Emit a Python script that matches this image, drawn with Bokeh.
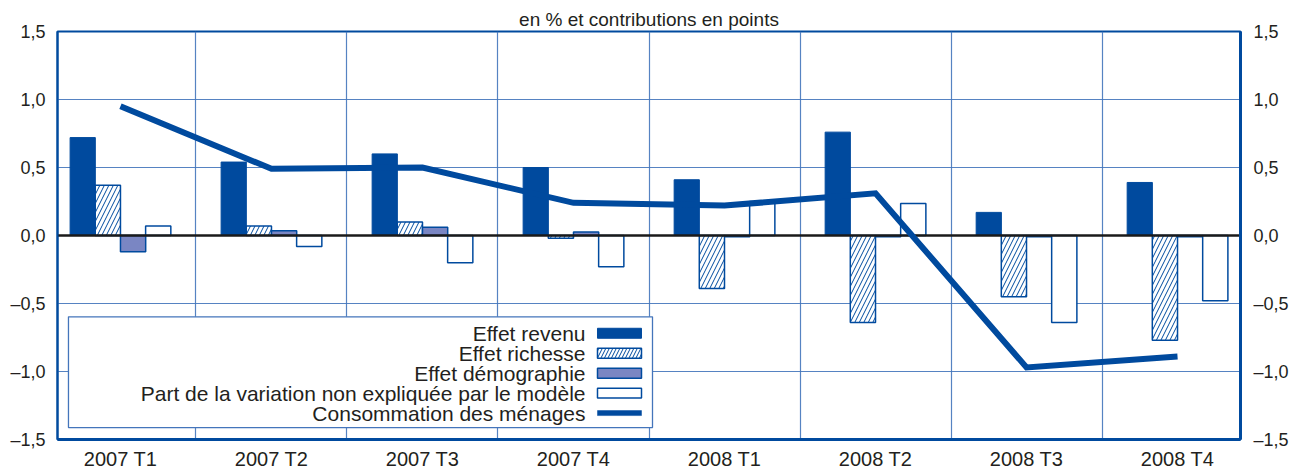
import numpy as np
from bokeh.plotting import figure
from bokeh.models import Range1d, FixedTicker, LinearAxis, BoxAnnotation, Label
from bokeh.embed import file_html
from bokeh.resources import INLINE

# ---- data ----
categories = ["2007 T1", "2007 T2", "2007 T3", "2007 T4",
              "2008 T1", "2008 T2", "2008 T3", "2008 T4"]
effet_revenu = [0.72, 0.54, 0.60, 0.50, 0.41, 0.76, 0.17, 0.39]
effet_richesse = [0.37, 0.07, 0.10, -0.02, -0.39, -0.64, -0.45, -0.77]
effet_demographie = [-0.12, 0.035, 0.06, 0.025, -0.01, -0.01, -0.01, -0.01]
part_non_expliquee = [0.07, -0.08, -0.20, -0.23, 0.25, 0.235, -0.64, -0.48]
consommation = [0.95, 0.49, 0.50, 0.24, 0.22, 0.31, -0.97, -0.89]
y_ticks = [-1.5, -1.0, -0.5, 0.0, 0.5, 1.0, 1.5]
y_tick_labels = ["\u20131,5", "\u20131,0", "\u20130,5", "0,0", "0,5", "1,0", "1,5"]
legend_labels = ["Effet revenu", "Effet richesse", "Effet démographie",
                 "Part de la variation non expliquée par le modèle",
                 "Consommation des ménages"]
title_text = "en % et contributions en points"

# ---- style ----
BLUE = "#004a9e"
DEMO = "#7a86c3"
GRID = "#4475bb"
TXT = "#231f20"
FONT = "Liberation Sans"

idx = np.arange(len(categories))
W = 0.167
offsets = [-0.25, -0.0835, 0.0835, 0.25]

p = figure(width=1300, height=472, output_backend="svg", toolbar_location=None,
           x_range=Range1d(-0.417, 7.417), y_range=Range1d(-1.5, 1.5),
           min_border_left=57, min_border_right=60, min_border_top=31,
           min_border_bottom=32, background_fill_color="white",
           border_fill_color="white")

p.title.text = title_text
p.title.align = "center"
p.title.text_font = FONT
p.title.text_font_size = "19px"
p.title.text_font_style = "normal"
p.title.text_color = TXT
p.title.standoff = 3

p.outline_line_color = BLUE
p.outline_line_width = 2
p.outline_line_alpha = 1

# grids
p.xgrid.ticker = FixedTicker(ticks=list(idx[:-1] + 0.5))
p.ygrid.ticker = FixedTicker(ticks=y_ticks)
for g in (p.xgrid[0], p.ygrid[0]):
    g.grid_line_color = GRID
    g.grid_line_width = 1.2
    g.grid_line_alpha = 0.9

# axes
p.xaxis.ticker = FixedTicker(ticks=list(idx))
p.xaxis.major_label_overrides = {int(i): c for i, c in zip(idx, categories)}
p.yaxis.ticker = FixedTicker(ticks=y_ticks)
p.yaxis.major_label_overrides = {t: l for t, l in zip(y_ticks, y_tick_labels)}
right_axis = LinearAxis(ticker=FixedTicker(ticks=y_ticks),
                        major_label_overrides={t: l for t, l in zip(y_ticks, y_tick_labels)})
p.add_layout(right_axis, "right")

for ax in (p.xaxis[0], p.yaxis[0], right_axis):
    ax.major_tick_in = 0
    ax.major_tick_out = 0
    ax.minor_tick_in = 0
    ax.minor_tick_out = 0
    ax.axis_line_color = BLUE
    ax.major_label_text_font = FONT
    ax.major_label_text_color = TXT
p.xaxis.axis_line_width = 3
p.xaxis.major_label_text_font_size = "20px"
p.xaxis.major_label_standoff = 8
p.yaxis.axis_line_width = 2
p.yaxis.major_label_text_font_size = "18px"
p.yaxis.major_label_standoff = 12
right_axis.axis_line_width = 3
right_axis.major_label_text_font_size = "18px"
right_axis.major_label_standoff = 13

# bars
p.vbar(x=idx + offsets[0], top=effet_revenu, bottom=0, width=W,
       fill_color=BLUE, line_color=BLUE, line_width=1)
p.vbar(x=idx + offsets[1], top=effet_richesse, bottom=0, width=W,
       fill_color="white", line_color=BLUE, line_width=1.5,
       hatch_pattern="/", hatch_color=BLUE, hatch_scale=9, hatch_weight=1)
p.vbar(x=idx + offsets[2], top=effet_demographie, bottom=0, width=W,
       fill_color=DEMO, line_color=BLUE, line_width=1.5)
p.vbar(x=idx + offsets[3], top=part_non_expliquee, bottom=0, width=W,
       fill_color="white", line_color=BLUE, line_width=1.5)

# zero line
p.hspan(y=[0], line_color="#1a1a1a", line_width=2.5)

# consumption line
p.line(idx, consommation, line_color=BLUE, line_width=6, line_join="miter")

# ---- legend (drawn manually: text right-aligned, swatch on the right) ----
def dx(px):
    return (px - 120.0) / 151.0

def dy(py):
    return (235.5 - py) / 136.33

p.add_layout(BoxAnnotation(left=dx(68), right=dx(652), top=dy(317), bottom=dy(428),
                           fill_color="white", fill_alpha=1, line_color=GRID,
                           line_width=1.3, line_alpha=1))
row_y = [333.5, 353.5, 373.5, 393.5, 413.5]
for lab, ry in zip(legend_labels, row_y):
    p.add_layout(Label(x=dx(585), y=dy(ry), text=lab, text_align="right",
                       text_baseline="middle", text_font=FONT,
                       text_font_size="21px", text_color=TXT))
sw_l, sw_r = dx(597), dx(641)
p.add_layout(BoxAnnotation(left=sw_l, right=sw_r, top=dy(row_y[0] - 5), bottom=dy(row_y[0] + 5),
                           fill_color=BLUE, fill_alpha=1, line_color=BLUE, line_alpha=1, line_width=1))
p.add_layout(BoxAnnotation(left=sw_l, right=sw_r, top=dy(row_y[1] - 5), bottom=dy(row_y[1] + 5),
                           fill_color="white", fill_alpha=1, line_color=BLUE, line_alpha=1, line_width=1.5,
                           hatch_pattern="/", hatch_color=BLUE, hatch_scale=7, hatch_weight=1))
p.add_layout(BoxAnnotation(left=sw_l, right=sw_r, top=dy(row_y[2] - 5), bottom=dy(row_y[2] + 5),
                           fill_color=DEMO, fill_alpha=1, line_color=BLUE, line_alpha=1, line_width=1.5))
p.add_layout(BoxAnnotation(left=sw_l, right=sw_r, top=dy(row_y[3] - 5), bottom=dy(row_y[3] + 5),
                           fill_color="white", fill_alpha=1, line_color=BLUE, line_alpha=1, line_width=1.5))
p.add_layout(BoxAnnotation(left=sw_l, right=sw_r, top=dy(row_y[4] - 2.5), bottom=dy(row_y[4] + 2.5),
                           fill_color=BLUE, fill_alpha=1, line_color=BLUE, line_alpha=1, line_width=0.5))

open("out.html", "w").write(file_html(p, INLINE))
